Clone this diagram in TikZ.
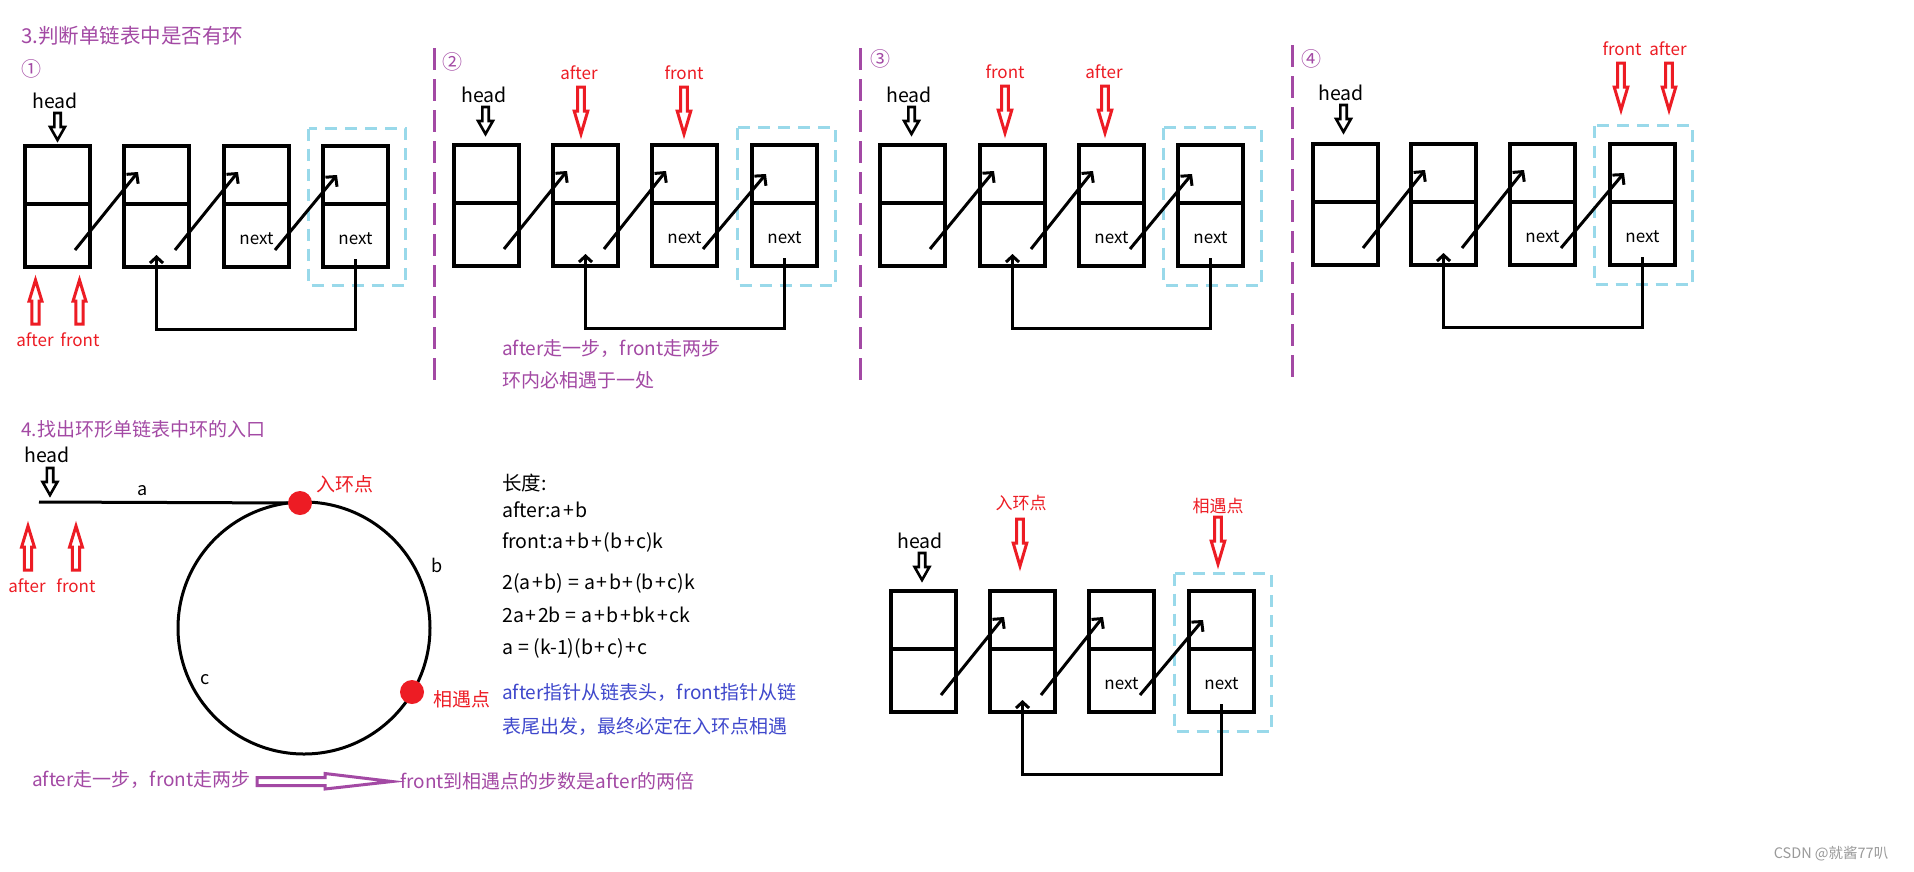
\documentclass[tikz,border=0pt]{standalone}
\usepackage{fontspec}
\setmainfont{Noto Sans CJK SC}
\usetikzlibrary{arrows.meta}
\definecolor{ppl}{HTML}{A349A4}
\definecolor{rd}{HTML}{ED1C24}
\definecolor{lb}{HTML}{99D9EA}
\definecolor{bl}{HTML}{3F48CC}
\definecolor{wm}{HTML}{9A9A9A}
\tikzset{
 cellbox/.style={draw, line width=4.5pt, minimum width=65pt, minimum height=121pt, inner sep=0pt, outer sep=0pt},
 cellline/.style={line width=4.5pt},
 nxtarrow/.style={line width=3pt, -{Straight Barb[length=7pt,width=15pt]}},
 backarrow/.style={line width=3pt, -{Straight Barb[length=6pt,width=13pt]}},
 dashbox/.style={draw=lb, line width=3pt, dash pattern=on 12pt off 8pt},
 divline/.style={draw=ppl, line width=3pt, dash pattern=on 22pt off 9pt},
 txt/.style={inner sep=0pt, font=\fontsize{19}{22}\selectfont},
 eqtxt/.style={inner sep=0pt, font=\fontsize{19.5}{22}\selectfont},
 headtxt/.style={inner sep=0pt, font=\fontsize{19.5}{22}\selectfont},
 redtxt/.style={inner sep=0pt, text=rd, font=\fontsize{17}{20}\selectfont},
 nexttxt/.style={inner sep=0pt, font=\fontsize{17}{20}\selectfont},
 numtxt/.style={inner sep=0pt, text=ppl, font=\fontsize{20}{22}\selectfont},
 ptrline/.style={line width=2.6pt, line join=miter},
}
\newcommand\pl{\kern1.6pt+\kern1.6pt}
\newcommand\eqs{\kern5pt=\kern5pt}
% black hollow pointer pointing down: x, ytop
\newcommand\headptr[2]{\draw[ptrline] (#1-3.2,#2) -- (#1+3.2,#2) -- (#1+3.2,#2+14) -- (#1+7.4,#2+14) -- (#1,#2+27) -- (#1-7.4,#2+14) -- (#1-3.2,#2+14) -- cycle;}
% red hollow pointer pointing down: x, ytop
\newcommand\redown[2]{\draw[ptrline, rd, line width=3pt] (#1-3.4,#2) -- (#1+3.4,#2) -- (#1+3.4,#2+24) -- (#1+6.8,#2+24) -- (#1,#2+47) -- (#1-6.8,#2+24) -- (#1-3.4,#2+24) -- cycle;}
% red hollow pointer pointing up: x, ytip
\newcommand\redup[2]{\draw[ptrline, rd, line width=3pt] (#1-3.6,#2+44) -- (#1+3.6,#2+44) -- (#1+3.6,#2+21) -- (#1+6.4,#2+21) -- (#1,#2) -- (#1-6.4,#2+21) -- (#1-3.6,#2+21) -- cycle;}
% a list cell with its divider
\newcommand\mkcell[3]{\node[cellbox] (#1) at (#2,#3) {};
 \draw[cellline] ([yshift=-58pt]#1.north west) -- ([yshift=-58pt]#1.north east);}
% the four-cell list with its links and back loop
\newcommand\mklist[6]{% prefix, x1, x2, x3, x4, ycenter
 \mkcell{#1a}{#2}{#6}\mkcell{#1b}{#3}{#6}\mkcell{#1c}{#4}{#6}\mkcell{#1d}{#5}{#6}
 \draw[nxtarrow] ([shift={(50,104)}]#1a.north west) -- ([shift={(14,26)}]#1b.north west);
 \draw[nxtarrow] ([shift={(51,104)}]#1b.north west) -- ([shift={(14,26)}]#1c.north west);
 \draw[nxtarrow] ([shift={(51,104)}]#1c.north west) -- ([shift={(14,29)}]#1d.north west);
 \node[nexttxt] (#1cn) at ([yshift=-32pt]#1c.center) {next};
 \node[nexttxt] (#1dn) at ([yshift=-32pt]#1d.center) {next};
 \draw[backarrow] ([yshift=8pt]#1d.south) -- ++(0,70) -| ([yshift=12pt]#1b.south);
}
\begin{document}
\begin{tikzpicture}[x=1pt,y=-1pt]
\fill[white] (0,0) rectangle (1914,871);
\useasboundingbox (0,0) rectangle (1914,871);

% ---------- section 3 ----------
\node[inner sep=0pt, text=ppl, font=\fontsize{20.5}{24}\selectfont, anchor=west] (t3) at (21,36) {3.判断单链表中是否有环};
\draw[divline] (434,48) -- (434,381);
\draw[divline] (860,48) -- (860,381);
\draw[divline] (1292,45) -- (1292,381);

% panel 1
\node[numtxt] (n1) at (31,69) {①};
\node[headtxt] (h1) at (55,101) {head};
\headptr{57.5}{113}
\draw[dashbox] (308.5,128.5) rectangle (405.5,285.5);
\mklist{p}{57.5}{156.5}{256.5}{355.5}{206.5}
\redup{35.5}{280}
\redup{79.5}{280}
\node[redtxt] (af1) at (35,340) {after};
\node[redtxt] (fr1) at (80,340) {front};

% panel 2
\node[numtxt] (n2) at (452,62) {②};
\node[headtxt] (h2) at (484,95) {head};
\headptr{485.5}{107}
\node[redtxt] (af2) at (579,73) {after};
\node[redtxt] (fr2) at (684,73) {front};
\redown{581}{87}
\redown{684}{87}
\draw[dashbox] (737.5,127.5) rectangle (835.5,285.5);
\mklist{q}{486.5}{585.5}{684.5}{784.5}{205.5}
\node[txt, text=ppl, anchor=west] (s2a) at (502,349) {after走一步，front走两步};
\node[txt, text=ppl, anchor=west] (s2b) at (502,380) {环内必相遇于一处};

% panel 3
\node[numtxt] (n3) at (880,59) {③};
\node[headtxt] (h3) at (909,95) {head};
\headptr{911.5}{107}
\node[redtxt] (fr3) at (1005,72) {front};
\node[redtxt] (af3) at (1104,72) {after};
\redown{1005}{86}
\redown{1105}{86}
\draw[dashbox] (1163.5,127.5) rectangle (1261.5,285.5);
\mklist{r}{912.5}{1012.5}{1111.5}{1210.5}{205.5}

% panel 4
\node[numtxt] (n4) at (1311,59) {④};
\node[headtxt] (h4) at (1341,93) {head};
\headptr{1343.5}{105}
\node[redtxt] (fr4) at (1622,49) {front};
\node[redtxt] (af4) at (1668,49) {after};
\redown{1621}{63}
\redown{1669}{63}
\draw[dashbox] (1594.5,125.5) rectangle (1692.5,284.5);
\mklist{s}{1345.5}{1443.5}{1542.5}{1642.5}{204.5}

% ---------- section 4 ----------
\node[inner sep=0pt, text=ppl, font=\fontsize{19}{22}\selectfont, anchor=west] (t4) at (21,429) {4.找出环形单链表中环的入口};
\node[headtxt] (h5) at (47,455) {head};
\headptr{50}{468}
\node[draw, circle, line width=3pt, minimum size=252pt, inner sep=0pt, outer sep=0pt] (ring) at (304,628) {};
\node[fill=rd, circle, minimum size=24pt, inner sep=0pt] (entry) at (300,503) {};
\node[fill=rd, circle, minimum size=24pt, inner sep=0pt] (meet) at (412,692) {};
\coordinate (hstart) at (39,502);
\draw[line width=3pt] (hstart) -- (entry);
\node[txt, font=\fontsize{18}{20}\selectfont] (la) at (143,491) {a};
\node[txt, font=\fontsize{18}{20}\selectfont] (lb) at (437,565) {b};
\node[txt, font=\fontsize{18}{20}\selectfont] (lc) at (205,680) {c};
\node[inner sep=0pt, text=rd, font=\fontsize{19}{22}\selectfont] (le) at (345,484) {入环点};
\node[inner sep=0pt, text=rd, font=\fontsize{19}{22}\selectfont] (lm) at (462,699) {相遇点};
\redup{28}{526}
\redup{76}{526}
\node[redtxt] (af5) at (27,586) {after};
\node[redtxt] (fr5) at (76,586) {front};
\node[txt, text=ppl, anchor=west] (s4a) at (32,780) {after走一步，front走两步};
\draw[ppl, line width=3pt, line join=miter] (257,777.5) -- (325,777.5) -- (325,773.5) -- (392,781.5) -- (325,789) -- (325,785.5) -- (257,785.5) -- cycle;
\node[txt, text=ppl, anchor=west] (s4b) at (400,781) {front到相遇点的步数是after的两倍};

% equations
\node[eqtxt, anchor=west] (e0) at (502,483) {长度:};
\node[eqtxt, anchor=west] (e1) at (502,510) {after:a\pl b};
\node[eqtxt, anchor=west] (e2) at (502,542) {front:a\pl b\pl(b\pl c)k};
\node[eqtxt, anchor=west] (e3) at (502,583) {2(a\pl b)\eqs a\pl b\pl(b\pl c)k};
\node[eqtxt, anchor=west] (e4) at (502,615) {2a\pl 2b\eqs a\pl b\pl bk\pl ck};
\node[eqtxt, anchor=west] (e5) at (502,648) {a\eqs(k-1)(b\pl c)\pl c};
\node[txt, text=bl, anchor=west] (e6) at (502,692) {after指针从链表头，front指针从链};
\node[txt, text=bl, anchor=west] (e7) at (502,726) {表尾出发，最终必定在入环点相遇};

% bottom list
\node[headtxt] (h6) at (920,541) {head};
\headptr{922}{553}
\node[inner sep=0pt, text=rd, font=\fontsize{17}{20}\selectfont] (le2) at (1021,503) {入环点};
\node[inner sep=0pt, text=rd, font=\fontsize{17}{20}\selectfont] (lm2) at (1218,506) {相遇点};
\redown{1020}{519}
\redown{1218}{517}
\draw[dashbox] (1174.5,573.5) rectangle (1271.5,731.5);
\mklist{u}{923.5}{1022.5}{1121.5}{1221.5}{651.5}

% watermark
\node[inner sep=0pt, text=wm, font=\fontsize{14.5}{17}\selectfont] (wmk) at (1831,854) {CSDN @就酱77叭};
\end{tikzpicture}
\end{document}
